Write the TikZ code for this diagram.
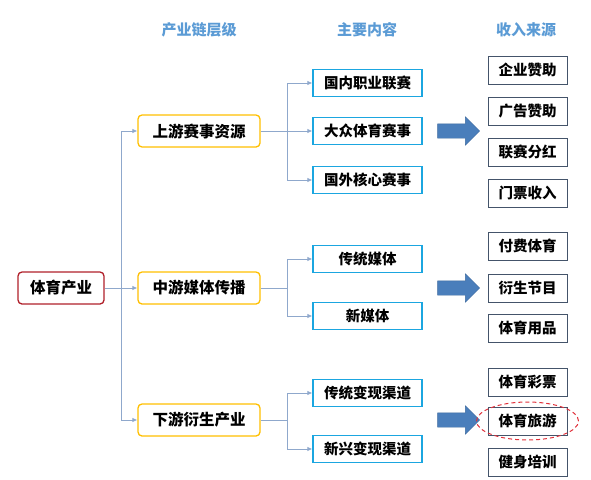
\documentclass[tikz,border=0pt]{standalone}
\usepackage{fontspec}
\setmainfont{Noto Sans CJK SC}
\usetikzlibrary{arrows.meta,shapes.arrows}

% Colores
\definecolor{titazul}{HTML}{5B9BD5}
\definecolor{amarillo}{HTML}{FFC000}
\definecolor{cian}{HTML}{1BA6E0}
\definecolor{rojooscuro}{HTML}{B0202A}
\definecolor{pizarra}{HTML}{44546A}
\definecolor{linea}{HTML}{8FA8CC}
\definecolor{flecha}{HTML}{4A7EBB}
\definecolor{rojodash}{HTML}{E0303A}

\tikzset{
  titulo/.style={font=\bfseries\fontsize{15}{15}\selectfont, text=titazul},
  raiz/.style={draw=rojooscuro, line width=1.3pt, rounded corners=4pt, fill=white,
    minimum width=86pt, minimum height=32pt, inner sep=0pt,
    font=\bfseries\fontsize{15.5}{15.5}\selectfont},
  nivel/.style={draw=amarillo, line width=1.3pt, rounded corners=4pt, fill=white,
    minimum width=122pt, minimum height=32pt, inner sep=0pt,
    font=\bfseries\fontsize{15.5}{15.5}\selectfont},
  contenido/.style={draw=cian, line width=1.3pt, fill=white,
    minimum width=109pt, minimum height=27pt, inner sep=0pt,
    font=\bfseries\fontsize{14.5}{14.5}\selectfont},
  ingreso/.style={draw=pizarra, line width=0.9pt, fill=white,
    minimum width=79pt, minimum height=28pt, inner sep=0pt,
    font=\bfseries\fontsize{14.5}{14.5}\selectfont},
  tramo/.style={draw=linea, line width=0.8pt},
  enlace/.style={tramo, -{Latex[length=5pt,width=4.5pt]}},
  flechagorda/.style={single arrow, fill=flecha, draw=flecha!85!black, line width=0.4pt,
    minimum height=42pt, inner xsep=0pt, inner ysep=7pt, single arrow head extend=7pt},
}

\begin{document}
\begin{tikzpicture}[x=1pt,y=-1pt]
  \useasboundingbox (0,0) rectangle (591,479);

  %——————————————————————————————————————————————
  % Encabezados de columna
  %——————————————————————————————————————————————
  \node[titulo] (h1) at (199,30) {产业链层级};
  \node[titulo] (h2) at (367,30) {主要内容};
  \node[titulo] (h3) at (526,30) {收入来源};

  %——————————————————————————————————————————————
  % Raiz y niveles de la cadena
  %——————————————————————————————————————————————
  \node[raiz]  (ind)  at (61,288)  {体育产业};
  \node[nivel] (up)   at (199,131) {上游赛事资源};
  \node[nivel] (mid)  at (199,288) {中游媒体传播};
  \node[nivel] (down) at (199,420) {下游衍生产业};

  % Tronco vertical
  \coordinate (t0) at (121,288);
  \draw[tramo]  (ind) -- (t0);
  \draw[enlace] (t0) |- (up);
  \draw[enlace] (t0) -- (mid);
  \draw[enlace] (t0) |- (down);

  %——————————————————————————————————————————————
  % Contenidos principales
  %——————————————————————————————————————————————
  \node[contenido] (c11) at (367.5,83)  {国内职业联赛};
  \node[contenido] (c12) at (367.5,131) {大众体育赛事};
  \node[contenido] (c13) at (367.5,180) {国外核心赛事};
  \node[contenido] (c21) at (367.5,259) {传统媒体};
  \node[contenido] (c22) at (367.5,316) {新媒体};
  \node[contenido] (c31) at (367.5,393) {传统变现渠道};
  \node[contenido] (c32) at (367.5,449) {新兴变现渠道};

  % Ramas
  \coordinate (b1) at (287,131);
  \coordinate (b2) at (287,288);
  \coordinate (b3) at (287,420);
  \draw[tramo] (up) -- (b1);
  \draw[tramo] (mid) -- (b2);
  \draw[tramo] (down) -- (b3);
  \foreach \c in {c11,c12,c13} \draw[enlace] (b1) |- (\c);
  \foreach \c in {c21,c22} \draw[enlace] (b2) |- (\c);
  \foreach \c in {c31,c32} \draw[enlace] (b3) |- (\c);

  %——————————————————————————————————————————————
  % Flechas gruesas
  %——————————————————————————————————————————————
  \node[flechagorda] (f1) at (455,131) {};
  \node[flechagorda] (f2) at (455,288) {};
  \node[flechagorda] (f3) at (455,420) {};

  %——————————————————————————————————————————————
  % Fuentes de ingreso
  %——————————————————————————————————————————————
  \node[ingreso] (r1)  at (527.5,70)  {企业赞助};
  \node[ingreso] (r2)  at (527.5,111) {广告赞助};
  \node[ingreso] (r3)  at (527.5,152) {联赛分红};
  \node[ingreso] (r4)  at (527.5,193) {门票收入};
  \node[ingreso] (r5)  at (527.5,246) {付费体育};
  \node[ingreso] (r6)  at (527.5,288) {衍生节目};
  \node[ingreso] (r7)  at (527.5,328) {体育用品};
  \node[ingreso] (r8)  at (527.5,382) {体育彩票};
  \node[ingreso] (r9)  at (527.5,421) {体育旅游};
  \node[ingreso] (r10) at (527.5,462) {健身培训};

  % Resaltado
  \draw[rojodash, line width=1pt, dash pattern=on 4pt off 3pt]
    (r9.center) ellipse [x radius=51pt, y radius=19pt];
\end{tikzpicture}
\end{document}
